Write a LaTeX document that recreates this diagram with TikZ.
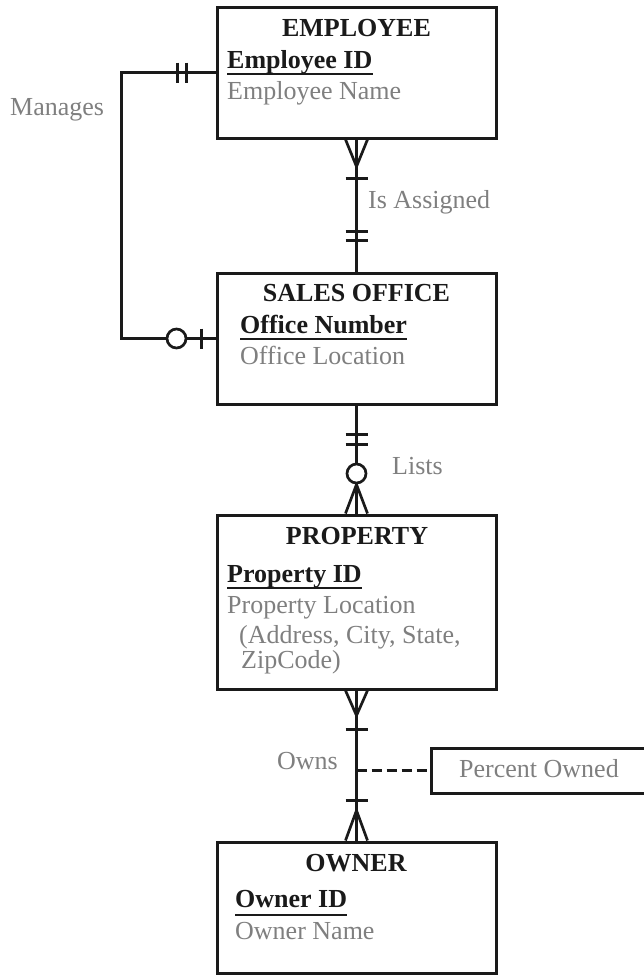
\documentclass[tikz,border=0pt]{standalone}
\usepackage{fontspec}
\setmainfont{Liberation Serif}
\usetikzlibrary{calc}
\definecolor{ink}{HTML}{1A1A1A}
\definecolor{txtgray}{HTML}{7F7F7F}
\begin{document}
\begin{tikzpicture}[x=1pt,y=-1pt,
  entity/.style={draw=ink, line width=3pt, minimum width=279pt, minimum height=131pt, inner sep=0pt},
  etitle/.style={font=\fontsize{26}{30}\selectfont\bfseries, text=ink, anchor=base, inner sep=0pt},
  ekey/.style={font=\fontsize{26}{30}\selectfont\bfseries, text=ink, anchor=base west, inner sep=0pt},
  eattr/.style={font=\fontsize{26}{30}\selectfont, text=txtgray, anchor=base west, inner sep=0pt},
  rel/.style={draw=ink, line width=2.7pt},
  uline/.style={draw=ink, line width=2pt},
  crowbar/.style={draw=ink, line width=2.7pt},
  optcircle/.style={circle, draw=ink, line width=2.7pt, fill=white, minimum size=19pt, inner sep=0pt}
]
\useasboundingbox (0,0) rectangle (644,975);

% entities
\node[entity] (emp) at (356.5,72.5) {};
\node[entity] (so) at (356.5,338.5) {};
\node[entity, minimum height=174pt] (prop) at (356.5,602) {};
\node[entity] (own) at (356.5,907.5) {};
\node[draw=ink, line width=3pt, minimum width=229pt, minimum height=45pt, inner sep=0pt] (pct) at (545.5,770.5) {};

% connectors
\draw[rel] (emp.south) -- (so.north);
\draw[rel] (so.south) -- (prop.north);
\draw[rel] (prop.south) -- (own.north);
\draw[rel] (emp.west) -- ++(-94,0) |- (so.west);
\coordinate (pctfoot) at (pct.west -| prop.south);
\draw[rel, dash pattern=on 10pt off 5pt] (pctfoot) -- (pct.west);

% Is Assigned: many (employee) to one (sales office)
\draw[crowbar] ($(emp.south)+(-11,0)$) -- ($(emp.south)+(0,27)$) -- ($(emp.south)+(11,0)$);
\draw[crowbar] ($(emp.south)+(-11,39)$) -- ($(emp.south)+(11,39)$);
\draw[crowbar] ($(so.north)+(-11,-40)$) -- ($(so.north)+(11,-40)$);
\draw[crowbar] ($(so.north)+(-11,-31)$) -- ($(so.north)+(11,-31)$);

% Lists
\draw[crowbar] ($(so.south)+(-11,29)$) -- ($(so.south)+(11,29)$);
\draw[crowbar] ($(so.south)+(-11,39)$) -- ($(so.south)+(11,39)$);
\draw[crowbar] ($(prop.north)+(-11,0)$) -- ($(prop.north)+(0,-29)$) -- ($(prop.north)+(11,0)$);
\node[optcircle] (lc) at ($(prop.north)+(0,-40)$) {};

% Owns
\draw[crowbar] ($(prop.south)+(-11,0)$) -- ($(prop.south)+(0,25)$) -- ($(prop.south)+(11,0)$);
\draw[crowbar] ($(prop.south)+(-11,39)$) -- ($(prop.south)+(11,39)$);
\draw[crowbar] ($(own.north)+(-11,-40)$) -- ($(own.north)+(11,-40)$);
\draw[crowbar] ($(own.north)+(-11,0)$) -- ($(own.north)+(0,-30)$) -- ($(own.north)+(11,0)$);

% Manages
\draw[crowbar] ($(emp.west)+(-38,-10)$) -- ($(emp.west)+(-38,10)$);
\draw[crowbar] ($(emp.west)+(-29,-10)$) -- ($(emp.west)+(-29,10)$);
\node[optcircle] (mc) at ($(so.west)+(-39,0)$) {};
\draw[crowbar] ($(so.west)+(-14,-10)$) -- ($(so.west)+(-14,10)$);

% texts: EMPLOYEE
\node[etitle] (t1) at (356.5,36) {EMPLOYEE};
\node[ekey] (k1) at (227,68) {Employee ID};
\draw[uline] ($(k1.base west)+(0,6)$) -- ($(k1.base east)+(0,6)$);
\node[eattr] (a1) at (227,99) {Employee Name};

% SALES OFFICE
\node[etitle] (t2) at (356.5,301) {SALES OFFICE};
\node[ekey] (k2) at (240,333) {Office Number};
\draw[uline] ($(k2.base west)+(0,6)$) -- ($(k2.base east)+(0,6)$);
\node[eattr] (a2) at (240,364) {Office Location};

% PROPERTY
\node[etitle] (t3) at (357,544) {PROPERTY};
\node[ekey] (k3) at (227,582) {Property ID};
\draw[uline] ($(k3.base west)+(0,6)$) -- ($(k3.base east)+(0,6)$);
\node[eattr] (a3) at (227,613) {Property Location};
\node[eattr] (a4) at (239,643) {(Address, City, State,};
\node[eattr] (a5) at (241,668) {ZipCode)};

% OWNER
\node[etitle] (t4) at (356,871) {OWNER};
\node[ekey] (k4) at (235,907) {Owner ID};
\draw[uline] ($(k4.base west)+(0,8)$) -- ($(k4.base east)+(0,8)$);
\node[eattr] (a6) at (235,939) {Owner Name};

% relationship labels
\node[eattr] (r1) at (368,208) {Is Assigned};
\node[eattr] (r2) at (10,115) {Manages};
\node[eattr] (r3) at (392,474) {Lists};
\node[eattr] (r4) at (277,769) {Owns};
\node[eattr] (r5) at (459,777) {Percent Owned};
\end{tikzpicture}
\end{document}
